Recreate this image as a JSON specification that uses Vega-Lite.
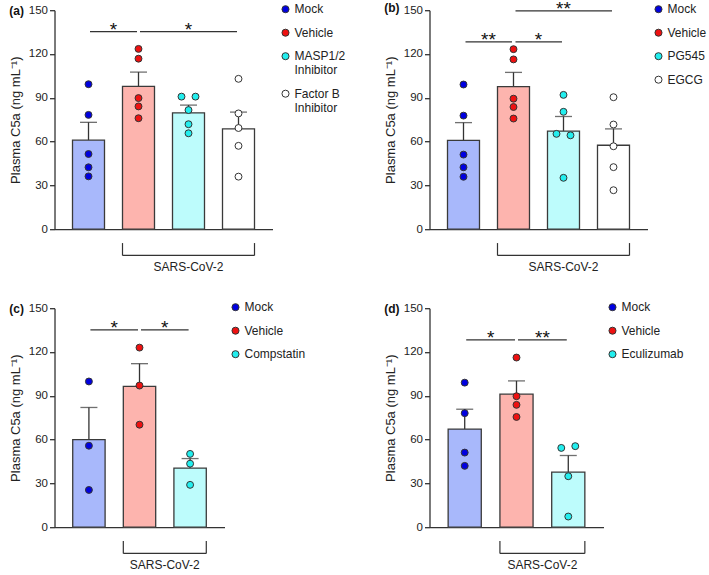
{
  "$schema": "https://vega.github.io/schema/vega-lite/v6.json",
  "background": "white",
  "padding": {"left": 8.5, "top": 0.2, "right": 0, "bottom": 0},
  "columns": 2,
  "spacing": {"row": 79, "column": 157},
  "bounds": "flush",
  "resolve": {"scale": {"x": "independent", "y": "independent", "color": "independent", "fill": "independent"}, "legend": {"color": "independent"}, "axis": {"x": "independent", "y": "independent"}},
  "config": {
    "font": "Liberation Sans",
    "view": {"stroke": null},
    "axisX": {"labels": false, "ticks": false, "grid": false, "domainColor": "#333", "domainWidth": 1.3},
    "axisY": {"grid": false, "domainColor": "#333", "domainWidth": 1.3, "tickColor": "#333", "tickWidth": 1.3, "tickSize": 5, "labelFontSize": 11.5, "labelColor": "#222", "labelPadding": 2, "titleFontSize": 13, "titleFontWeight": "normal", "titleColor": "#222", "titlePadding": 6},
    "legend": {"symbolType": "circle", "symbolSize": 50, "symbolStrokeColor": "#333", "symbolStrokeWidth": 1, "labelFontSize": 12, "labelColor": "#222", "rowPadding": 11.5, "labelOffset": 3, "labelLimit": 300},
    "title": {"anchor": "start", "frame": "bounds", "fontSize": 12, "fontWeight": "bold", "color": "#111", "offset": 0, "dy": 19}
  },
  "datasets": {
    "bars": [
      {"panel": "a", "group": "Mock", "mean": 61.0, "upper": 73.2},
      {"panel": "a", "group": "Vehicle", "mean": 97.8, "upper": 107.6},
      {"panel": "a", "group": "MASP1/2 Inhibitor", "mean": 79.7, "upper": 85.0},
      {"panel": "a", "group": "Factor B Inhibitor", "mean": 68.7, "upper": 80.2},
      {"panel": "b", "group": "Mock", "mean": 60.9, "upper": 73.0},
      {"panel": "b", "group": "Vehicle", "mean": 97.6, "upper": 107.4},
      {"panel": "b", "group": "PG545", "mean": 67.2, "upper": 77.2},
      {"panel": "b", "group": "EGCG", "mean": 57.5, "upper": 68.7},
      {"panel": "c", "group": "Mock", "mean": 60.0, "upper": 82.0},
      {"panel": "c", "group": "Vehicle", "mean": 96.5, "upper": 112.0},
      {"panel": "c", "group": "Compstatin", "mean": 40.5, "upper": 47.0},
      {"panel": "d", "group": "Mock", "mean": 67.2, "upper": 80.8},
      {"panel": "d", "group": "Vehicle", "mean": 91.1, "upper": 100.2},
      {"panel": "d", "group": "Eculizumab", "mean": 37.7, "upper": 49.1}
    ],
    "pts": [
      {"panel": "a", "group": "Mock", "value": 99.3, "side": "C"},
      {"panel": "a", "group": "Mock", "value": 78.3, "side": "C"},
      {"panel": "a", "group": "Mock", "value": 51.5, "side": "C"},
      {"panel": "a", "group": "Mock", "value": 42.4, "side": "C"},
      {"panel": "a", "group": "Mock", "value": 36.2, "side": "C"},
      {"panel": "a", "group": "Vehicle", "value": 123.5, "side": "C"},
      {"panel": "a", "group": "Vehicle", "value": 116.8, "side": "C"},
      {"panel": "a", "group": "Vehicle", "value": 89.8, "side": "C"},
      {"panel": "a", "group": "Vehicle", "value": 84.1, "side": "C"},
      {"panel": "a", "group": "Vehicle", "value": 76.0, "side": "C"},
      {"panel": "a", "group": "MASP1/2 Inhibitor", "value": 90.8, "side": "L"},
      {"panel": "a", "group": "MASP1/2 Inhibitor", "value": 90.8, "side": "R"},
      {"panel": "a", "group": "MASP1/2 Inhibitor", "value": 81.6, "side": "C"},
      {"panel": "a", "group": "MASP1/2 Inhibitor", "value": 71.9, "side": "C"},
      {"panel": "a", "group": "MASP1/2 Inhibitor", "value": 65.7, "side": "C"},
      {"panel": "a", "group": "Factor B Inhibitor", "value": 103.0, "side": "C"},
      {"panel": "a", "group": "Factor B Inhibitor", "value": 79.3, "side": "C"},
      {"panel": "a", "group": "Factor B Inhibitor", "value": 69.3, "side": "C"},
      {"panel": "a", "group": "Factor B Inhibitor", "value": 57.1, "side": "C"},
      {"panel": "a", "group": "Factor B Inhibitor", "value": 36.0, "side": "C"},
      {"panel": "b", "group": "Mock", "value": 99.1, "side": "C"},
      {"panel": "b", "group": "Mock", "value": 77.8, "side": "C"},
      {"panel": "b", "group": "Mock", "value": 51.1, "side": "C"},
      {"panel": "b", "group": "Mock", "value": 42.4, "side": "C"},
      {"panel": "b", "group": "Mock", "value": 35.9, "side": "C"},
      {"panel": "b", "group": "Vehicle", "value": 123.3, "side": "C"},
      {"panel": "b", "group": "Vehicle", "value": 116.3, "side": "C"},
      {"panel": "b", "group": "Vehicle", "value": 89.4, "side": "C"},
      {"panel": "b", "group": "Vehicle", "value": 83.7, "side": "C"},
      {"panel": "b", "group": "Vehicle", "value": 75.8, "side": "C"},
      {"panel": "b", "group": "PG545", "value": 92.0, "side": "C"},
      {"panel": "b", "group": "PG545", "value": 80.4, "side": "C"},
      {"panel": "b", "group": "PG545", "value": 65.3, "side": "L"},
      {"panel": "b", "group": "PG545", "value": 64.3, "side": "R"},
      {"panel": "b", "group": "PG545", "value": 35.2, "side": "C"},
      {"panel": "b", "group": "EGCG", "value": 90.4, "side": "C"},
      {"panel": "b", "group": "EGCG", "value": 71.7, "side": "C"},
      {"panel": "b", "group": "EGCG", "value": 56.8, "side": "C"},
      {"panel": "b", "group": "EGCG", "value": 42.5, "side": "C"},
      {"panel": "b", "group": "EGCG", "value": 26.7, "side": "C"},
      {"panel": "c", "group": "Mock", "value": 99.8, "side": "C"},
      {"panel": "c", "group": "Mock", "value": 55.8, "side": "C"},
      {"panel": "c", "group": "Mock", "value": 25.5, "side": "C"},
      {"panel": "c", "group": "Vehicle", "value": 123.0, "side": "C"},
      {"panel": "c", "group": "Vehicle", "value": 97.0, "side": "C"},
      {"panel": "c", "group": "Vehicle", "value": 70.2, "side": "C"},
      {"panel": "c", "group": "Compstatin", "value": 50.2, "side": "C"},
      {"panel": "c", "group": "Compstatin", "value": 43.5, "side": "C"},
      {"panel": "c", "group": "Compstatin", "value": 29.0, "side": "C"},
      {"panel": "d", "group": "Mock", "value": 99.0, "side": "C"},
      {"panel": "d", "group": "Mock", "value": 78.1, "side": "C"},
      {"panel": "d", "group": "Mock", "value": 51.1, "side": "C"},
      {"panel": "d", "group": "Mock", "value": 42.0, "side": "C"},
      {"panel": "d", "group": "Vehicle", "value": 116.2, "side": "C"},
      {"panel": "d", "group": "Vehicle", "value": 89.7, "side": "C"},
      {"panel": "d", "group": "Vehicle", "value": 83.8, "side": "C"},
      {"panel": "d", "group": "Vehicle", "value": 75.5, "side": "C"},
      {"panel": "d", "group": "Eculizumab", "value": 54.3, "side": "L"},
      {"panel": "d", "group": "Eculizumab", "value": 55.5, "side": "R"},
      {"panel": "d", "group": "Eculizumab", "value": 34.9, "side": "C"},
      {"panel": "d", "group": "Eculizumab", "value": 7.3, "side": "C"}
    ],
    "sig": [
      {"panel": "a", "from": "Mock", "to": "Vehicle", "mid": "Vehicle", "adj": true, "y": 135.3, "label": "*"},
      {"panel": "a", "from": "Vehicle", "to": "Factor B Inhibitor", "mid": "MASP1/2 Inhibitor", "adj": false, "y": 135.3, "label": "*"},
      {"panel": "b", "from": "Mock", "to": "Vehicle", "mid": "Vehicle", "adj": true, "y": 128.3, "label": "**"},
      {"panel": "b", "from": "Vehicle", "to": "PG545", "mid": "PG545", "adj": true, "y": 128.3, "label": "*"},
      {"panel": "b", "from": "Vehicle", "to": "EGCG", "mid": "PG545", "adj": false, "y": 149.5, "label": "**"},
      {"panel": "c", "from": "Mock", "to": "Vehicle", "mid": "Vehicle", "adj": true, "y": 135.1, "label": "*"},
      {"panel": "c", "from": "Vehicle", "to": "Compstatin", "mid": "Compstatin", "adj": true, "y": 135.1, "label": "*"},
      {"panel": "d", "from": "Mock", "to": "Vehicle", "mid": "Vehicle", "adj": true, "y": 128.3, "label": "*"},
      {"panel": "d", "from": "Vehicle", "to": "Eculizumab", "mid": "Eculizumab", "adj": true, "y": 128.3, "label": "**"}
    ],
    "sars": [
      {"panel": "a", "start": "Vehicle", "end": "Factor B Inhibitor", "mid": "MASP1/2 Inhibitor", "label": "SARS-CoV-2"},
      {"panel": "b", "start": "Vehicle", "end": "EGCG", "mid": "PG545", "label": "SARS-CoV-2"},
      {"panel": "c", "start": "Vehicle", "end": "Compstatin", "mid": "Compstatin", "label": "SARS-CoV-2"},
      {"panel": "d", "start": "Vehicle", "end": "Eculizumab", "mid": "Eculizumab", "label": "SARS-CoV-2"}
    ]
  },
  "concat": [
    {
      "width": 218, "height": 219,
      "title": {"text": "(a)"},
      "layer": [
        {"data": {"name": "bars"}, "transform": [{"filter": "datum.panel === 'a'"}],
         "mark": {"type": "rule", "color": "#333", "strokeWidth": 1.3},
         "encoding": {
           "x": {"field": "group", "type": "nominal", "title": null, "scale": {"domain": ["Mock", "Vehicle", "MASP1/2 Inhibitor", "Factor B Inhibitor"], "paddingInner": 0.36, "paddingOuter": 0.36}},
           "y": {"field": "mean", "type": "quantitative", "title": "Plasma C5a (ng mL⁻¹)", "scale": {"domain": [0, 150], "nice": false}, "axis": {"values": [0, 30, 60, 90, 120, 150]}},
           "y2": {"field": "upper"}}},
        {"data": {"name": "bars"}, "transform": [{"filter": "datum.panel === 'a'"}],
         "mark": {"type": "tick", "color": "#333", "thickness": 1.3, "size": 17},
         "encoding": {"x": {"field": "group", "type": "nominal", "title": null}, "y": {"field": "upper", "type": "quantitative"}}},
        {"data": {"name": "bars"}, "transform": [{"filter": "datum.panel === 'a'"}],
         "mark": {"type": "bar", "stroke": "#3a3a3a", "strokeWidth": 1.3},
         "encoding": {"x": {"field": "group", "type": "nominal", "title": null}, "y": {"field": "mean", "type": "quantitative"},
           "fill": {"field": "group", "type": "nominal", "sort": null, "legend": null, "scale": {"range": ["#a8b8fb", "#fdb4ae", "#bdfcfc", "#ffffff"]}}}},
        {"data": {"name": "pts"}, "transform": [{"filter": "datum.panel === 'a' && datum.side === 'C'"}],
         "mark": {"type": "point", "filled": true, "size": 48, "stroke": "#333", "strokeWidth": 1, "opacity": 1},
         "encoding": {"x": {"field": "group", "type": "nominal", "title": null},
           "y": {"field": "value", "type": "quantitative"},
           "color": {"field": "group", "type": "nominal", "scale": {"domain": ["Mock", "Vehicle", "MASP1/2 Inhibitor", "Factor B Inhibitor"], "range": ["#0000e0", "#ee1111", "#22eeee", "#ffffff"]},
             "legend": {"title": null, "orient": "none", "legendX": 225, "legendY": -7, "labelExpr": "datum.label == 'MASP1/2 Inhibitor' ? ['MASP1/2', 'Inhibitor'] : datum.label == 'Factor B Inhibitor' ? ['Factor B', 'Inhibitor'] : datum.label"}}}},
        {"data": {"name": "pts"}, "transform": [{"filter": "datum.panel === 'a' && datum.side === 'L'"}],
         "mark": {"type": "point", "filled": true, "size": 48, "stroke": "#333", "strokeWidth": 1, "opacity": 1, "xOffset": -7},
         "encoding": {"x": {"field": "group", "type": "nominal", "title": null}, "y": {"field": "value", "type": "quantitative"}, "color": {"field": "group", "type": "nominal"}}},
        {"data": {"name": "pts"}, "transform": [{"filter": "datum.panel === 'a' && datum.side === 'R'"}],
         "mark": {"type": "point", "filled": true, "size": 48, "stroke": "#333", "strokeWidth": 1, "opacity": 1, "xOffset": 7},
         "encoding": {"x": {"field": "group", "type": "nominal", "title": null}, "y": {"field": "value", "type": "quantitative"}, "color": {"field": "group", "type": "nominal"}}},
        {"data": {"name": "sig"}, "transform": [{"filter": "datum.panel === 'a'"}],
         "mark": {"type": "rule", "color": "#333", "strokeWidth": 1.3, "xOffset": 1.5, "x2Offset": -1.5},
         "encoding": {"x": {"field": "from", "type": "nominal", "bandPosition": 0.5, "title": null}, "x2": {"field": "to", "bandPosition": 0.5}, "y": {"field": "y", "type": "quantitative"}}},
        {"data": {"name": "sig"}, "transform": [{"filter": "datum.panel === 'a' && datum.adj"}],
         "mark": {"type": "text", "fontSize": 19, "baseline": "alphabetic", "dy": 4.5, "xOffset": -25, "color": "#111"},
         "encoding": {"x": {"field": "to", "type": "nominal", "title": null}, "y": {"field": "y", "type": "quantitative"}, "text": {"field": "label"}}},
        {"data": {"name": "sig"}, "transform": [{"filter": "datum.panel === 'a' && !datum.adj"}],
         "mark": {"type": "text", "fontSize": 19, "baseline": "alphabetic", "dy": 4.5, "color": "#111"},
         "encoding": {"x": {"field": "mid", "type": "nominal", "title": null}, "y": {"field": "y", "type": "quantitative"}, "text": {"field": "label"}}},
        {"data": {"name": "sars"}, "transform": [{"filter": "datum.panel === 'a'"}],
         "mark": {"type": "rule", "color": "#333", "strokeWidth": 1.2},
         "encoding": {"x": {"field": "start", "type": "nominal", "bandPosition": 0, "title": null}, "y": {"datum": -9.5, "type": "quantitative"}, "y2": {"datum": -18}}},
        {"data": {"name": "sars"}, "transform": [{"filter": "datum.panel === 'a'"}],
         "mark": {"type": "rule", "color": "#333", "strokeWidth": 1.2},
         "encoding": {"x": {"field": "end", "type": "nominal", "bandPosition": 1, "title": null}, "y": {"datum": -9.5, "type": "quantitative"}, "y2": {"datum": -18}}},
        {"data": {"name": "sars"}, "transform": [{"filter": "datum.panel === 'a'"}],
         "mark": {"type": "rule", "color": "#333", "strokeWidth": 1.2},
         "encoding": {"x": {"field": "start", "type": "nominal", "bandPosition": 0, "title": null}, "x2": {"field": "end", "bandPosition": 1}, "y": {"datum": -18, "type": "quantitative"}}},
        {"data": {"name": "sars"}, "transform": [{"filter": "datum.panel === 'a'"}],
         "mark": {"type": "text", "fontSize": 12, "baseline": "middle", "color": "#222"},
         "encoding": {"x": {"field": "mid", "type": "nominal", "title": null}, "y": {"datum": -26, "type": "quantitative"}, "text": {"field": "label"}}}
      ]
    },
    {
      "width": 218, "height": 219,
      "title": {"text": "(b)"},
      "layer": [
        {"data": {"name": "bars"}, "transform": [{"filter": "datum.panel === 'b'"}],
         "mark": {"type": "rule", "color": "#333", "strokeWidth": 1.3},
         "encoding": {
           "x": {"field": "group", "type": "nominal", "title": null, "scale": {"domain": ["Mock", "Vehicle", "PG545", "EGCG"], "paddingInner": 0.36, "paddingOuter": 0.36}},
           "y": {"field": "mean", "type": "quantitative", "title": "Plasma C5a (ng mL⁻¹)", "scale": {"domain": [0, 150], "nice": false}, "axis": {"values": [0, 30, 60, 90, 120, 150]}},
           "y2": {"field": "upper"}}},
        {"data": {"name": "bars"}, "transform": [{"filter": "datum.panel === 'b'"}],
         "mark": {"type": "tick", "color": "#333", "thickness": 1.3, "size": 17},
         "encoding": {"x": {"field": "group", "type": "nominal", "title": null}, "y": {"field": "upper", "type": "quantitative"}}},
        {"data": {"name": "bars"}, "transform": [{"filter": "datum.panel === 'b'"}],
         "mark": {"type": "bar", "stroke": "#3a3a3a", "strokeWidth": 1.3},
         "encoding": {"x": {"field": "group", "type": "nominal", "title": null}, "y": {"field": "mean", "type": "quantitative"},
           "fill": {"field": "group", "type": "nominal", "sort": null, "legend": null, "scale": {"range": ["#a8b8fb", "#fdb4ae", "#bdfcfc", "#ffffff"]}}}},
        {"data": {"name": "pts"}, "transform": [{"filter": "datum.panel === 'b' && datum.side === 'C'"}],
         "mark": {"type": "point", "filled": true, "size": 48, "stroke": "#333", "strokeWidth": 1, "opacity": 1},
         "encoding": {"x": {"field": "group", "type": "nominal", "title": null},
           "y": {"field": "value", "type": "quantitative"},
           "color": {"field": "group", "type": "nominal", "scale": {"domain": ["Mock", "Vehicle", "PG545", "EGCG"], "range": ["#0000e0", "#ee1111", "#22eeee", "#ffffff"]},
             "legend": {"title": null, "orient": "none", "legendX": 223, "legendY": -7}}}},
        {"data": {"name": "pts"}, "transform": [{"filter": "datum.panel === 'b' && datum.side === 'L'"}],
         "mark": {"type": "point", "filled": true, "size": 48, "stroke": "#333", "strokeWidth": 1, "opacity": 1, "xOffset": -7},
         "encoding": {"x": {"field": "group", "type": "nominal", "title": null}, "y": {"field": "value", "type": "quantitative"}, "color": {"field": "group", "type": "nominal"}}},
        {"data": {"name": "pts"}, "transform": [{"filter": "datum.panel === 'b' && datum.side === 'R'"}],
         "mark": {"type": "point", "filled": true, "size": 48, "stroke": "#333", "strokeWidth": 1, "opacity": 1, "xOffset": 7},
         "encoding": {"x": {"field": "group", "type": "nominal", "title": null}, "y": {"field": "value", "type": "quantitative"}, "color": {"field": "group", "type": "nominal"}}},
        {"data": {"name": "sig"}, "transform": [{"filter": "datum.panel === 'b'"}],
         "mark": {"type": "rule", "color": "#333", "strokeWidth": 1.3, "xOffset": 2, "x2Offset": -1.5},
         "encoding": {"x": {"field": "from", "type": "nominal", "bandPosition": 0.5, "title": null}, "x2": {"field": "to", "bandPosition": 0.5}, "y": {"field": "y", "type": "quantitative"}}},
        {"data": {"name": "sig"}, "transform": [{"filter": "datum.panel === 'b' && datum.adj"}],
         "mark": {"type": "text", "fontSize": 19, "baseline": "alphabetic", "dy": 4.5, "xOffset": -25, "color": "#111"},
         "encoding": {"x": {"field": "to", "type": "nominal", "title": null}, "y": {"field": "y", "type": "quantitative"}, "text": {"field": "label"}}},
        {"data": {"name": "sig"}, "transform": [{"filter": "datum.panel === 'b' && !datum.adj"}],
         "mark": {"type": "text", "fontSize": 19, "baseline": "alphabetic", "dy": 4.5, "color": "#111"},
         "encoding": {"x": {"field": "mid", "type": "nominal", "title": null}, "y": {"field": "y", "type": "quantitative"}, "text": {"field": "label"}}},
        {"data": {"name": "sars"}, "transform": [{"filter": "datum.panel === 'b'"}],
         "mark": {"type": "rule", "color": "#333", "strokeWidth": 1.2},
         "encoding": {"x": {"field": "start", "type": "nominal", "bandPosition": 0, "title": null}, "y": {"datum": -9.5, "type": "quantitative"}, "y2": {"datum": -18}}},
        {"data": {"name": "sars"}, "transform": [{"filter": "datum.panel === 'b'"}],
         "mark": {"type": "rule", "color": "#333", "strokeWidth": 1.2},
         "encoding": {"x": {"field": "end", "type": "nominal", "bandPosition": 1, "title": null}, "y": {"datum": -9.5, "type": "quantitative"}, "y2": {"datum": -18}}},
        {"data": {"name": "sars"}, "transform": [{"filter": "datum.panel === 'b'"}],
         "mark": {"type": "rule", "color": "#333", "strokeWidth": 1.2},
         "encoding": {"x": {"field": "start", "type": "nominal", "bandPosition": 0, "title": null}, "x2": {"field": "end", "bandPosition": 1}, "y": {"datum": -18, "type": "quantitative"}}},
        {"data": {"name": "sars"}, "transform": [{"filter": "datum.panel === 'b'"}],
         "mark": {"type": "text", "fontSize": 12, "baseline": "middle", "color": "#222"},
         "encoding": {"x": {"field": "mid", "type": "nominal", "title": null}, "y": {"datum": -26, "type": "quantitative"}, "text": {"field": "label"}}}
      ]
    },
    {
      "width": 170, "height": 219,
      "title": {"text": "(c)"},
      "layer": [
        {"data": {"name": "bars"}, "transform": [{"filter": "datum.panel === 'c'"}],
         "mark": {"type": "rule", "color": "#333", "strokeWidth": 1.3},
         "encoding": {
           "x": {"field": "group", "type": "nominal", "title": null, "scale": {"domain": ["Mock", "Vehicle", "Compstatin"], "paddingInner": 0.36, "paddingOuter": 0.36}},
           "y": {"field": "mean", "type": "quantitative", "title": "Plasma C5a (ng mL⁻¹)", "scale": {"domain": [0, 150], "nice": false}, "axis": {"values": [0, 30, 60, 90, 120, 150]}},
           "y2": {"field": "upper"}}},
        {"data": {"name": "bars"}, "transform": [{"filter": "datum.panel === 'c'"}],
         "mark": {"type": "tick", "color": "#333", "thickness": 1.3, "size": 17},
         "encoding": {"x": {"field": "group", "type": "nominal", "title": null}, "y": {"field": "upper", "type": "quantitative"}}},
        {"data": {"name": "bars"}, "transform": [{"filter": "datum.panel === 'c'"}],
         "mark": {"type": "bar", "stroke": "#3a3a3a", "strokeWidth": 1.3},
         "encoding": {"x": {"field": "group", "type": "nominal", "title": null}, "y": {"field": "mean", "type": "quantitative"},
           "fill": {"field": "group", "type": "nominal", "sort": null, "legend": null, "scale": {"range": ["#a8b8fb", "#fdb4ae", "#bdfcfc"]}}}},
        {"data": {"name": "pts"}, "transform": [{"filter": "datum.panel === 'c'"}],
         "mark": {"type": "point", "filled": true, "size": 48, "stroke": "#333", "strokeWidth": 1, "opacity": 1},
         "encoding": {"x": {"field": "group", "type": "nominal", "title": null},
           "y": {"field": "value", "type": "quantitative"},
           "color": {"field": "group", "type": "nominal", "scale": {"domain": ["Mock", "Vehicle", "Compstatin"], "range": ["#0000e0", "#ee1111", "#22eeee"]},
             "legend": {"title": null, "orient": "none", "legendX": 175, "legendY": -7}}}},
        {"data": {"name": "sig"}, "transform": [{"filter": "datum.panel === 'c'"}],
         "mark": {"type": "rule", "color": "#333", "strokeWidth": 1.3, "xOffset": 1.5, "x2Offset": -1.5},
         "encoding": {"x": {"field": "from", "type": "nominal", "bandPosition": 0.5, "title": null}, "x2": {"field": "to", "bandPosition": 0.5}, "y": {"field": "y", "type": "quantitative"}}},
        {"data": {"name": "sig"}, "transform": [{"filter": "datum.panel === 'c'"}],
         "mark": {"type": "text", "fontSize": 19, "baseline": "alphabetic", "dy": 4.5, "xOffset": -25.3, "color": "#111"},
         "encoding": {"x": {"field": "to", "type": "nominal", "title": null}, "y": {"field": "y", "type": "quantitative"}, "text": {"field": "label"}}},
        {"data": {"name": "sars"}, "transform": [{"filter": "datum.panel === 'c'"}],
         "mark": {"type": "rule", "color": "#333", "strokeWidth": 1.2},
         "encoding": {"x": {"field": "start", "type": "nominal", "bandPosition": 0, "title": null}, "y": {"datum": -9.5, "type": "quantitative"}, "y2": {"datum": -18}}},
        {"data": {"name": "sars"}, "transform": [{"filter": "datum.panel === 'c'"}],
         "mark": {"type": "rule", "color": "#333", "strokeWidth": 1.2},
         "encoding": {"x": {"field": "end", "type": "nominal", "bandPosition": 1, "title": null}, "y": {"datum": -9.5, "type": "quantitative"}, "y2": {"datum": -18}}},
        {"data": {"name": "sars"}, "transform": [{"filter": "datum.panel === 'c'"}],
         "mark": {"type": "rule", "color": "#333", "strokeWidth": 1.2},
         "encoding": {"x": {"field": "start", "type": "nominal", "bandPosition": 0, "title": null}, "x2": {"field": "end", "bandPosition": 1}, "y": {"datum": -18, "type": "quantitative"}}},
        {"data": {"name": "sars"}, "transform": [{"filter": "datum.panel === 'c'"}],
         "mark": {"type": "text", "fontSize": 12, "baseline": "middle", "color": "#222", "xOffset": -25.3},
         "encoding": {"x": {"field": "mid", "type": "nominal", "title": null}, "y": {"datum": -26, "type": "quantitative"}, "text": {"field": "label"}}}
      ]
    },
    {
      "width": 174, "height": 219,
      "title": {"text": "(d)"},
      "layer": [
        {"data": {"name": "bars"}, "transform": [{"filter": "datum.panel === 'd'"}],
         "mark": {"type": "rule", "color": "#333", "strokeWidth": 1.3},
         "encoding": {
           "x": {"field": "group", "type": "nominal", "title": null, "scale": {"domain": ["Mock", "Vehicle", "Eculizumab"], "paddingInner": 0.36, "paddingOuter": 0.36}},
           "y": {"field": "mean", "type": "quantitative", "title": "Plasma C5a (ng mL⁻¹)", "scale": {"domain": [0, 150], "nice": false}, "axis": {"values": [0, 30, 60, 90, 120, 150]}},
           "y2": {"field": "upper"}}},
        {"data": {"name": "bars"}, "transform": [{"filter": "datum.panel === 'd'"}],
         "mark": {"type": "tick", "color": "#333", "thickness": 1.3, "size": 17},
         "encoding": {"x": {"field": "group", "type": "nominal", "title": null}, "y": {"field": "upper", "type": "quantitative"}}},
        {"data": {"name": "bars"}, "transform": [{"filter": "datum.panel === 'd'"}],
         "mark": {"type": "bar", "stroke": "#3a3a3a", "strokeWidth": 1.3},
         "encoding": {"x": {"field": "group", "type": "nominal", "title": null}, "y": {"field": "mean", "type": "quantitative"},
           "fill": {"field": "group", "type": "nominal", "sort": null, "legend": null, "scale": {"range": ["#a8b8fb", "#fdb4ae", "#bdfcfc"]}}}},
        {"data": {"name": "pts"}, "transform": [{"filter": "datum.panel === 'd' && datum.side === 'C'"}],
         "mark": {"type": "point", "filled": true, "size": 48, "stroke": "#333", "strokeWidth": 1, "opacity": 1},
         "encoding": {"x": {"field": "group", "type": "nominal", "title": null},
           "y": {"field": "value", "type": "quantitative"},
           "color": {"field": "group", "type": "nominal", "scale": {"domain": ["Mock", "Vehicle", "Eculizumab"], "range": ["#0000e0", "#ee1111", "#22eeee"]},
             "legend": {"title": null, "orient": "none", "legendX": 177, "legendY": -7}}}},
        {"data": {"name": "pts"}, "transform": [{"filter": "datum.panel === 'd' && datum.side === 'L'"}],
         "mark": {"type": "point", "filled": true, "size": 48, "stroke": "#333", "strokeWidth": 1, "opacity": 1, "xOffset": -7},
         "encoding": {"x": {"field": "group", "type": "nominal", "title": null}, "y": {"field": "value", "type": "quantitative"}, "color": {"field": "group", "type": "nominal"}}},
        {"data": {"name": "pts"}, "transform": [{"filter": "datum.panel === 'd' && datum.side === 'R'"}],
         "mark": {"type": "point", "filled": true, "size": 48, "stroke": "#333", "strokeWidth": 1, "opacity": 1, "xOffset": 7},
         "encoding": {"x": {"field": "group", "type": "nominal", "title": null}, "y": {"field": "value", "type": "quantitative"}, "color": {"field": "group", "type": "nominal"}}},
        {"data": {"name": "sig"}, "transform": [{"filter": "datum.panel === 'd'"}],
         "mark": {"type": "rule", "color": "#333", "strokeWidth": 1.3, "xOffset": 1.5, "x2Offset": -1.5},
         "encoding": {"x": {"field": "from", "type": "nominal", "bandPosition": 0.5, "title": null}, "x2": {"field": "to", "bandPosition": 0.5}, "y": {"field": "y", "type": "quantitative"}}},
        {"data": {"name": "sig"}, "transform": [{"filter": "datum.panel === 'd'"}],
         "mark": {"type": "text", "fontSize": 19, "baseline": "alphabetic", "dy": 4.5, "xOffset": -25.9, "color": "#111"},
         "encoding": {"x": {"field": "to", "type": "nominal", "title": null}, "y": {"field": "y", "type": "quantitative"}, "text": {"field": "label"}}},
        {"data": {"name": "sars"}, "transform": [{"filter": "datum.panel === 'd'"}],
         "mark": {"type": "rule", "color": "#333", "strokeWidth": 1.2},
         "encoding": {"x": {"field": "start", "type": "nominal", "bandPosition": 0, "title": null}, "y": {"datum": -9.5, "type": "quantitative"}, "y2": {"datum": -18}}},
        {"data": {"name": "sars"}, "transform": [{"filter": "datum.panel === 'd'"}],
         "mark": {"type": "rule", "color": "#333", "strokeWidth": 1.2},
         "encoding": {"x": {"field": "end", "type": "nominal", "bandPosition": 1, "title": null}, "y": {"datum": -9.5, "type": "quantitative"}, "y2": {"datum": -18}}},
        {"data": {"name": "sars"}, "transform": [{"filter": "datum.panel === 'd'"}],
         "mark": {"type": "rule", "color": "#333", "strokeWidth": 1.2},
         "encoding": {"x": {"field": "start", "type": "nominal", "bandPosition": 0, "title": null}, "x2": {"field": "end", "bandPosition": 1}, "y": {"datum": -18, "type": "quantitative"}}},
        {"data": {"name": "sars"}, "transform": [{"filter": "datum.panel === 'd'"}],
         "mark": {"type": "text", "fontSize": 12, "baseline": "middle", "color": "#222", "xOffset": -25.9},
         "encoding": {"x": {"field": "mid", "type": "nominal", "title": null}, "y": {"datum": -26, "type": "quantitative"}, "text": {"field": "label"}}}
      ]
    }
  ]
}
